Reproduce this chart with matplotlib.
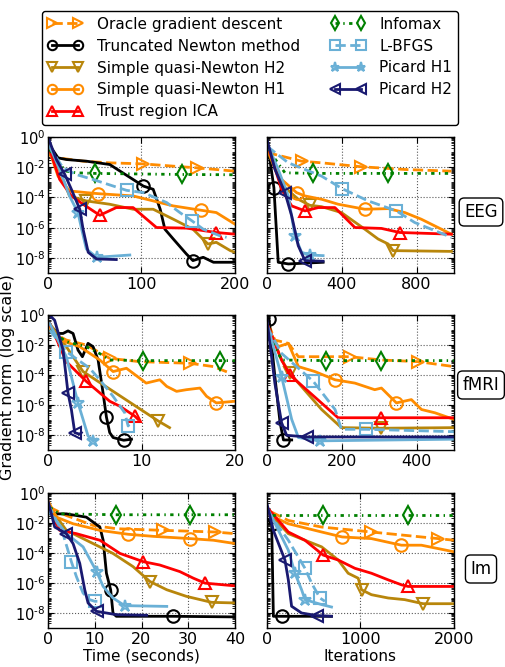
import numpy as np
import matplotlib
matplotlib.use("Agg")
import matplotlib.pyplot as plt
from matplotlib.lines import Line2D
from matplotlib.ticker import FixedLocator, FixedFormatter, LogLocator, NullFormatter

# Methods, in legend order
methods = ["oracle", "tn", "sqn2", "sqn1", "tr", "infomax", "lbfgs", "picard1", "picard2"]
labels = {
    "oracle": "Oracle gradient descent",
    "tn": "Truncated Newton method",
    "sqn2": "Simple quasi-Newton H2",
    "sqn1": "Simple quasi-Newton H1",
    "tr": "Trust region ICA",
    "infomax": "Infomax",
    "lbfgs": "L-BFGS",
    "picard1": "Picard H1",
    "picard2": "Picard H2",
}

# Curves: (x values, log10 of gradient norm)
eeg_time = {
    "oracle": ([0, 10.7, 37.5, 66, 102, 134, 159, 200],
               [-1.16, -1.38, -1.6, -1.71, -1.78, -1.93, -2.04, -2.26]),
    "tn": ([0, 10.7, 19.6, 41, 66, 91, 102, 112.5, 120, 125, 134, 148, 155, 166, 177, 200],
           [-0.39, -1.38, -1.49, -1.6, -1.82, -2.81, -3.25, -3.46, -4.78, -6.1, -6.75, -7.74, -8.18, -7.96, -8.29, -8.29]),
    "sqn2": ([0, 10.7, 23, 41, 66, 91, 112.5, 134, 155, 171, 180, 195, 200],
             [-0.29, -1.93, -3.9, -4.23, -4.45, -4.78, -4.78, -5.44, -6.1, -7.08, -6.97, -7.52, -7.63]),
    "sqn1": ([0, 10.7, 23, 41, 53.6, 91, 112.5, 134, 164, 180, 200],
             [-0.61, -2.59, -3.57, -3.68, -3.75, -3.9, -4.23, -4.56, -4.85, -5.0, -5.77]),
    "tr": ([1.8, 12.5, 25, 37.5, 55.4, 73, 91, 116, 148, 180, 200],
           [-0.83, -2.81, -3.9, -4.45, -5.18, -4.67, -4.67, -5.99, -6.03, -6.32, -6.43]),
    "infomax": ([1.8, 10.7, 19.6, 30, 50, 143, 200],
                [-0.83, -1.71, -2.26, -2.37, -2.41, -2.48, -2.5]),
    "lbfgs": ([0, 16, 30, 48, 70, 84, 102, 127, 141, 154, 166, 184, 191],
              [-0.5, -2.04, -2.48, -2.81, -3.25, -3.53, -3.68, -4.34, -5.0, -5.55, -6.1, -6.54, -6.64]),
    "picard1": ([1.8, 12.5, 23, 32, 36, 41, 52, 87.5],
                [-0.61, -2.15, -3.9, -5.0, -6.1, -7.41, -7.96, -7.81]),
    "picard2": ([1, 9, 18, 25, 34, 37.5, 43, 52, 73],
                [-0.18, -1.49, -2.48, -3.46, -4.78, -6.1, -7.63, -8.07, -8.11]),
}

eeg_iter = {
    "oracle": ([0, 25, 185, 292, 505, 737, 986],
               [-1.05, -1.1, -1.6, -1.71, -1.97, -2.15, -2.26]),
    "tn": ([0, 37, 60, 114, 300], [-0.18, -3.36, -8.29, -8.4, -8.29]),
    "sqn2": ([0, 78, 167, 229, 292, 398, 523, 594, 648, 674, 986],
             [-0.83, -3.14, -4.12, -4.52, -4.61, -5.0, -6.1, -6.75, -7.08, -7.52, -7.57]),
    "sqn1": ([0, 78, 158, 203, 292, 381, 523, 648, 737, 825, 986],
             [-0.83, -2.81, -3.68, -3.9, -4.12, -4.45, -4.78, -4.74, -5.0, -5.44, -6.43]),
    "tr": ([0, 78, 132, 203, 274, 363, 470, 612, 710, 986],
           [-0.39, -3.46, -4.56, -4.89, -4.67, -4.67, -5.99, -6.05, -6.32, -6.43]),
    "infomax": ([0, 96, 247, 648, 986], [-0.72, -2.37, -2.41, -2.41, -2.41]),
    "lbfgs": ([0, 114, 292, 402, 541, 692, 790, 986],
              [-0.61, -1.71, -2.59, -3.42, -4.23, -4.89, -5.66, -6.64]),
    "picard1": ([0, 60, 114, 149, 185, 229, 300],
                [-0.39, -2.15, -3.9, -6.54, -7.63, -7.81, -7.85]),
    "picard2": ([0, 43, 96, 132, 167, 203, 300],
                [-0.18, -2.15, -3.68, -5.22, -7.19, -8.18, -8.22]),
}

fmri_time = {
    "oracle": ([0, 1.96, 4.1, 6.6, 9.8, 15.2, 17.7, 19.5],
               [-1.01, -1.67, -2.0, -2.89, -3.11, -3.22, -3.44, -3.88]),
    "tn": ([0.18, 1.07, 1.61, 2.14, 2.68, 3.21, 3.68, 4.28, 4.82, 5.36, 5.89, 6.25, 6.6, 6.96, 8.1, 8.93],
           [-0.68, -1.23, -1.23, -1.06, -1.23, -2.34, -2.78, -1.89, -2.11, -3.0, -5.2, -6.81, -7.84, -8.17, -8.35, -8.28]),
    "sqn2": ([0.18, 1.96, 3.39, 3.75, 11.8, 13.0],
             [-0.57, -2.11, -3.44, -3.77, -7.07, -7.51]),
    "sqn1": ([0.18, 1.25, 3.39, 5.54, 6.96, 8.39, 10.5, 11.96, 12.7, 13.75, 14.8, 16.25, 16.96, 18.0, 20.0],
             [-0.79, -1.67, -2.11, -3.0, -3.77, -3.55, -4.54, -4.32, -4.76, -5.09, -4.98, -4.87, -5.42, -5.86, -5.75]),
    "tr": ([0.18, 1.96, 4.1, 6.6, 7.68, 9.28, 9.64],
           [-0.57, -3.11, -4.43, -5.75, -6.08, -6.74, -6.96]),
    "infomax": ([0.18, 1.96, 4.1, 5.5, 6.6, 10.2, 18.4, 20],
                [-1.01, -1.78, -2.11, -2.56, -3.0, -3.04, -3.04, -3.04]),
    "lbfgs": ([0.18, 1.96, 4.46, 5.54, 6.96, 8.21, 8.57, 8.93],
              [-1.01, -2.44, -3.55, -4.32, -5.42, -6.52, -7.4, -7.07]),
    "picard1": ([0.18, 1.96, 3.21, 3.75, 4.28, 4.82, 5.18],
                [-0.57, -2.78, -5.86, -6.96, -8.06, -8.39, -8.28]),
    "picard2": ([0.36, 0.71, 1.61, 2.14, 2.5, 2.86, 3.39, 3.57],
                [-0.13, -0.35, -2.33, -5.2, -6.3, -7.84, -7.95, -7.84]),
}

fmri_iter = {
    "oracle": ([3.6, 21, 57, 84, 146, 222, 306, 404, 500],
               [-0.57, -1.67, -1.89, -2.78, -2.78, -2.78, -3.0, -3.11, -3.44]),
    "tn": ([5.3, 21, 35, 44, 66], [-0.24, -4.1, -7.18, -8.33, -8.33]),
    "sqn2": ([0, 39, 61, 146, 199, 304, 500],
             [-0.57, -3.0, -3.88, -6.3, -7.51, -7.55, -7.51]),
    "sqn1": ([0, 30, 57, 84, 128, 182, 235, 288, 306, 346, 386, 413, 449, 500],
             [-0.79, -2.11, -1.89, -3.44, -3.77, -4.32, -4.54, -4.98, -4.87, -5.86, -5.64, -6.3, -6.52, -6.96]),
    "tr": ([0, 39, 61, 190, 304, 500], [-0.57, -3.0, -3.99, -6.85, -6.85, -6.85]),
    "infomax": ([0, 39, 159, 304, 500], [-1.01, -3.0, -3.04, -3.04, -3.04]),
    "lbfgs": ([0, 39, 124, 182, 199, 266, 500],
              [-0.79, -2.56, -4.43, -6.3, -7.62, -7.62, -7.78]),
    "picard1": ([0, 39, 66, 84, 141.5, 500], [-0.57, -4.1, -6.96, -8.17, -8.39, -8.28]),
    "picard2": ([0, 21, 39, 52.5, 106, 500], [-0.35, -4.54, -7.18, -8.02, -8.13, -8.13]),
}

im_time = {
    "oracle": ([0.36, 3.93, 9.64, 14.6, 24.6, 35.7, 40],
               [-0.95, -1.5, -2.16, -2.38, -2.49, -2.6, -2.71]),
    "tn": ([0.36, 3.93, 8.2, 11.1, 11.8, 12.5, 13.4, 13.9, 14.6, 26.8, 40],
           [-1.39, -1.39, -1.61, -2.27, -3.15, -5.35, -6.45, -8.0, -8.22, -8.22, -8.26]),
    "sqn2": ([0.36, 3.93, 9.64, 13.9, 18.2, 21.8, 25.4, 29.6, 35.0, 40],
             [-0.95, -2.49, -3.37, -4.03, -4.91, -5.9, -6.45, -6.89, -7.29, -7.33]),
    "sqn1": ([0, 1.79, 5.36, 11.1, 17.1, 22.5, 30.4, 35.4, 40],
             [-0.51, -1.61, -2.05, -2.49, -2.75, -2.89, -3.04, -3.15, -3.37]),
    "tr": ([0, 2.5, 6.07, 11.1, 15.4, 20.4, 23.9, 28.2, 31.1, 33.6, 40],
           [-0.95, -2.49, -2.71, -3.15, -4.03, -4.58, -4.8, -5.24, -5.68, -6.01, -6.19]),
    "infomax": ([0.36, 2.5, 14.6, 30.4, 40], [-0.95, -1.39, -1.45, -1.45, -1.45]),
    "lbfgs": ([0, 3.2, 5.0, 6.07, 7.5, 8.9, 10.0, 11.1],
              [-0.73, -2.71, -4.58, -5.57, -6.67, -7.11, -7.22, -7.22]),
    "picard1": ([0, 3.93, 7.5, 10.4, 11.8, 13.9, 16.4, 25.4],
                [-1.17, -2.71, -3.59, -5.24, -6.23, -7.0, -7.51, -7.56]),
    "picard2": ([0, 1.43, 3.93, 5.36, 6.79, 7.86, 8.57, 10.4, 14.6, 21.1],
                [-0.51, -2.27, -2.71, -3.37, -4.69, -6.45, -7.33, -7.89, -8.11, -8.15]),
}

im_iter = {
    "oracle": ([50, 228, 584, 1117, 1473, 1829, 2000],
               [-1.28, -1.83, -2.27, -2.6, -2.82, -3.04, -3.15]),
    "tn": ([14, 50, 68, 157, 690], [-1.83, -2.05, -8.22, -8.22, -8.22]),
    "sqn2": ([0, 228, 584, 762, 868, 975, 1011, 1117, 1296, 1473, 1669, 2000],
             [-1.17, -2.71, -3.59, -4.47, -5.35, -5.68, -6.45, -6.78, -7.0, -7.11, -7.38, -7.38]),
    "sqn1": ([0, 228, 584, 804, 1117, 1438, 1651, 2000],
             [-1.39, -2.05, -2.6, -2.93, -3.04, -3.48, -3.48, -3.92]),
    "tr": ([0, 228, 406, 601, 762, 940, 1117, 1296, 1438, 1509, 2000],
           [-0.95, -2.6, -3.15, -4.14, -4.47, -5.02, -5.35, -5.79, -6.12, -6.23, -6.23]),
    "infomax": ([50, 601, 1509, 2000], [-1.45, -1.45, -1.45, -1.45]),
    "lbfgs": ([0, 228, 406, 477, 566, 619], [-1.17, -3.15, -5.02, -6.01, -7.0, -7.22]),
    "picard1": ([0, 157, 228, 299, 370, 406, 584, 690],
                [-0.95, -2.93, -3.81, -5.35, -6.45, -7.11, -7.44, -7.6]),
    "picard2": ([0, 68, 192, 228, 263, 370, 530, 690],
                [-0.73, -2.49, -4.47, -5.79, -7.55, -8.0, -8.17, -8.22]),
}

# which points carry a marker (style only)
marks = {
    "eeg_time": {"oracle": [4, 6], "tn": [6, 12], "sqn2": [3, 9], "sqn1": [4, 8], "tr": [4, 9],
                 "infomax": [4, 5], "lbfgs": [5, 9], "picard1": [3, 6], "picard2": [2, 4]},
    "eeg_iter": {"oracle": [2, 4], "tn": [1, 3], "sqn2": [3, 9], "sqn1": [2, 6], "tr": [3, 8],
                 "infomax": [2, 3], "lbfgs": [3, 5], "picard1": [3, 5], "picard2": [2, 5]},
    "fmri_time": {"oracle": [3, 5], "tn": [11, 14], "sqn2": [3, 4], "sqn1": [4, 13], "tr": [2, 5],
                  "infomax": [5, 6], "lbfgs": [1, 6], "picard1": [2, 5], "picard2": [3, 5]},
    "fmri_iter": {"oracle": [5, 7], "tn": [0, 3], "sqn2": [2, 5], "sqn1": [5, 9], "tr": [2, 4],
                  "infomax": [2, 3], "lbfgs": [2, 5], "picard1": [1, 4], "picard2": [2, 4]},
    "im_time": {"oracle": [4, 5], "tn": [6, 9], "sqn2": [5, 8], "sqn1": [4, 6], "tr": [5, 9],
                "infomax": [2, 3], "lbfgs": [2, 6], "picard1": [3, 6], "picard2": [2, 7]},
    "im_iter": {"oracle": [3, 5], "tn": [1, 3], "sqn2": [6, 10], "sqn1": [3, 5], "tr": [3, 9],
                "infomax": [1, 2], "lbfgs": [2, 4], "picard1": [3, 5], "picard2": [2, 6]},
}

light_blue = "#6ab0d6"
styles = {
    "oracle": dict(color="#ff8c00", ls="--", marker=">"),
    "tn": dict(color="black", ls="-", marker="o"),
    "sqn2": dict(color="#b8860b", ls="-", marker="v"),
    "sqn1": dict(color="#ff8c00", ls="-", marker="o"),
    "tr": dict(color="red", ls="-", marker="^"),
    "infomax": dict(color="green", ls=(0, (1.2, 1.6, 0.5, 1.6)), marker="d"),
    "lbfgs": dict(color=light_blue, ls="--", marker="s"),
    "picard1": dict(color=light_blue, ls="-", marker="*"),
    "picard2": dict(color="#191970", ls="-", marker="<"),
}
LW, MS, MEW = 2.0, 9, 1.5

fig = plt.figure(figsize=(5.06, 6.67), dpi=100)
W, H = 506.0, 667.0

col_x = [48, 267]
col_w = 187
row_y = [(137, 273), (315, 450), (493, 628)]

panels = [
    ("eeg_time", eeg_time, 0, 0, 200, [0, 100, 200]),
    ("eeg_iter", eeg_iter, 0, 1, 1000, [0, 400, 800]),
    ("fmri_time", fmri_time, 1, 0, 20, [0, 10, 20]),
    ("fmri_iter", fmri_iter, 1, 1, 500, [0, 200, 400]),
    ("im_time", im_time, 2, 0, 40, [0, 10, 20, 30, 40]),
    ("im_iter", im_iter, 2, 1, 2000, [0, 1000, 2000]),
]

ytick_vals = [1e-8, 1e-6, 1e-4, 1e-2, 1e0]
ytick_labels = ["$10^{\u20108}$", "$10^{\u20106}$", "$10^{\u20104}$", "$10^{\u20102}$", "$10^{0}$"]

axes = {}
for key, data, r, c, xmax, xt in panels:
    top, bot = row_y[r]
    ax = fig.add_axes([col_x[c] / W, 1 - bot / H, col_w / W, (bot - top) / H])
    axes[key] = ax
    for m in methods:
        xs, ly = data[m]
        st = styles[m]
        ax.plot(xs, np.power(10.0, ly), color=st["color"], linestyle=st["ls"], lw=LW,
                marker=st["marker"], markevery=marks[key][m], ms=MS, mew=MEW,
                mfc="none", mec=st["color"])
    ax.set_yscale("log")
    ax.set_ylim(1e-9, 1)
    ax.set_xlim(0, xmax)
    ax.set_xticks(xt)
    ax.yaxis.set_major_locator(FixedLocator(ytick_vals))
    ax.yaxis.set_major_formatter(FixedFormatter(ytick_labels))
    ax.yaxis.set_minor_locator(LogLocator(base=10, subs=np.arange(1, 10), numticks=30))
    ax.yaxis.set_minor_formatter(NullFormatter())
    ax.tick_params(which="both", direction="in", top=True, right=True)
    ax.tick_params(which="major", length=4, width=0.8)
    ax.tick_params(which="minor", length=2, width=0.6)
    ax.tick_params(axis="x", labelsize=11.5, pad=3)
    ax.tick_params(axis="y", labelsize=10.5, pad=2)
    if c == 1:
        ax.tick_params(labelleft=False)
    ax.grid(True, which="major", linestyle=":", color="0.35", lw=0.8)
    for sp in ax.spines.values():
        sp.set_linewidth(1.0)

axes["im_time"].set_xlabel("Time (seconds)", fontsize=11, labelpad=1)
axes["im_iter"].set_xlabel("Iterations", fontsize=11, labelpad=1)

fig.text(7.5 / W, 1 - 377 / H, "Gradient norm (log scale)", rotation=90,
         ha="center", va="center", fontsize=11.5)

for name, yc in [("EEG", 212), ("fMRI", 385), ("Im", 569)]:
    fig.text(481 / W, 1 - yc / H, name, ha="center", va="center", fontsize=12,
             bbox=dict(boxstyle="round,pad=0.3", fc="white", ec="black", lw=1))

handles = [Line2D([], [], color=styles[m]["color"], linestyle=styles[m]["ls"], lw=LW,
                  marker=styles[m]["marker"], ms=MS, mew=MEW, mfc="none",
                  mec=styles[m]["color"]) for m in methods]
leg = fig.legend(handles, [labels[m] for m in methods], ncol=2, loc="upper left",
                 bbox_to_anchor=(34 / W, 1 - 3 / H), fontsize=11, numpoints=2,
                 markerscale=0.75, handlelength=2.3, handletextpad=0.9,
                 columnspacing=2.0, labelspacing=0.45, borderpad=0.4,
                 fancybox=True, framealpha=1)
leg.get_frame().set_edgecolor("black")
leg.get_frame().set_linewidth(1.0)

fig.savefig("out.png", dpi=100)
